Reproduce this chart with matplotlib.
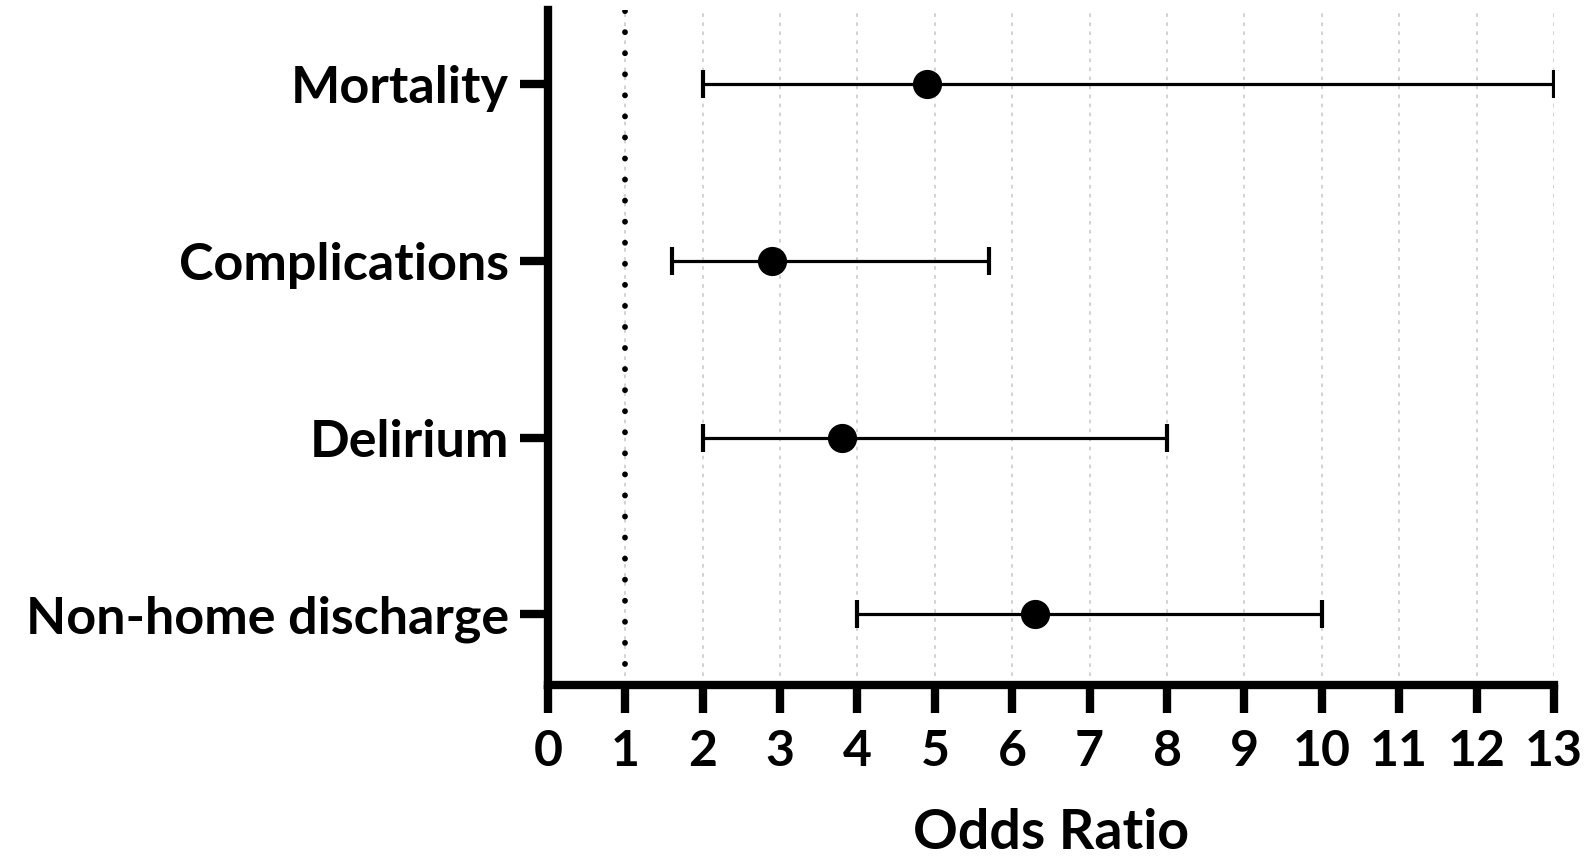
import matplotlib
matplotlib.use("Agg")
import matplotlib.pyplot as plt

# Odds ratios with 95% confidence intervals
outcomes = ["Mortality", "Complications", "Delirium", "Non-home discharge"]
odds_ratio = [4.9, 2.9, 3.8, 6.3]
ci_low = [2.0, 1.6, 2.0, 4.0]
ci_high = [13.0, 5.7, 8.0, 10.0]
x_ticks = list(range(0, 14))

plt.rcParams["font.family"] = ["Lato", "DejaVu Sans"]
plt.rcParams["font.weight"] = "bold"

fig = plt.figure(figsize=(15.85, 8.63), dpi=100)
ax = fig.add_axes([0.3457, 0.2063, 0.9804 - 0.3457, 0.9884 - 0.2063])

ypos = list(range(len(outcomes) - 1, -1, -1))
err_lo = [o - l for o, l in zip(odds_ratio, ci_low)]
err_hi = [h - o for o, h in zip(odds_ratio, ci_high)]

ax.errorbar(odds_ratio, ypos, xerr=[err_lo, err_hi], fmt="o", color="black",
            ecolor="black", elinewidth=2.3, capsize=10, capthick=3,
            markersize=20, zorder=5)

# reference line at OR = 1
ax.axvline(1, color="black", linestyle=(0, (0.01, 3.6)), lw=4.2,
           dash_capstyle="round", zorder=3)

ax.set_xlim(0, 13)
ax.set_ylim(-0.4, 3.42)
ax.set_xticks(x_ticks)
ax.set_xticklabels([str(t) for t in x_ticks])
ax.set_yticks(ypos)
ax.set_yticklabels(outcomes, fontsize=37.5)

ax.xaxis.grid(True, color="#cfcfcf", linestyle=(0, (2, 3)), lw=1.3, zorder=0)
ax.set_axisbelow(True)

for side in ("top", "right"):
    ax.spines[side].set_visible(False)
for side in ("left", "bottom"):
    ax.spines[side].set_linewidth(6)
    ax.spines[side].set_capstyle("projecting")

ax.tick_params(axis="both", length=20, width=6, color="black",
               labelcolor="black")
ax.tick_params(axis="x", pad=12, labelsize=36)
ax.tick_params(axis="y", pad=8)

ax.set_xlabel("Odds Ratio", fontsize=40, fontweight="bold", labelpad=24)

fig.savefig("out.png", dpi=100)
